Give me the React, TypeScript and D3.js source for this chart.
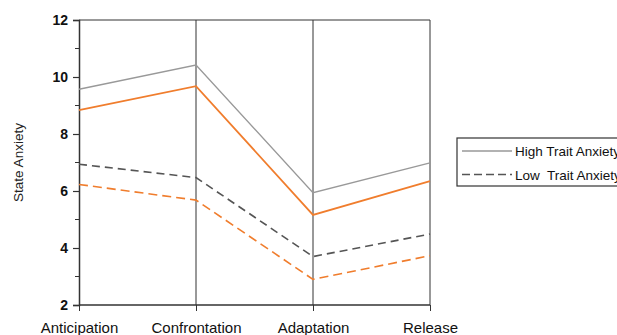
import React, { useRef, useEffect } from 'react';
import * as d3 from 'd3';

const phases = ['Anticipation', 'Confrontation', 'Adaptation', 'Release'];
const yTicks = [2, 4, 6, 8, 10, 12];

// gray = raw scores, orange = adjusted
const highGray = [9.57, 10.42, 5.94, 6.99];
const highOrange = [8.84, 9.68, 5.16, 6.35];
const lowGray = [6.94, 6.47, 3.70, 4.49];
const lowOrange = [6.23, 5.68, 2.90, 3.73];

const App = () => {
  const svgRef = useRef<SVGSVGElement>(null);

  useEffect(() => {
    const W = 617;
    const H = 335;
    const left = 79, right = 430, top = 20, bottom = 305;

    const svg = d3.select(svgRef.current)
      .attr('width', W)
      .attr('height', H)
      .style('font-family', 'Liberation Sans, Arial, sans-serif');

    svg.selectAll('*').remove();

    const x = d3.scalePoint().domain(phases).range([left, right]);
    const y = d3.scaleLinear().domain([2, 12]).range([bottom, top]);

    const axisColor = '#333';

    // vertical phase lines (excluding the y axis)
    svg.append('g')
      .selectAll('line')
      .data(phases.slice(1))
      .enter()
      .append('line')
      .attr('x1', d => x(d)!)
      .attr('x2', d => x(d)!)
      .attr('y1', top)
      .attr('y2', bottom)
      .attr('stroke', axisColor)
      .attr('stroke-width', 1);

    // top border
    svg.append('line')
      .attr('x1', left).attr('x2', right)
      .attr('y1', top).attr('y2', top)
      .attr('stroke', axisColor);

    // y axis
    const yAxis = svg.append('g')
      .attr('transform', `translate(${left},0)`)
      .call(d3.axisLeft(y).tickValues(yTicks).tickSize(6).tickPadding(5).tickFormat(d3.format('d')));
    yAxis.select('.domain').attr('stroke', axisColor).attr('stroke-width', 1.5);
    yAxis.selectAll('.tick line').attr('stroke', axisColor).attr('stroke-width', 1.2);
    yAxis.selectAll('text')
      .attr('font-size', 14)
      .attr('font-weight', 'bold')
      .attr('fill', '#111')
      .style('font-family', 'Liberation Sans, Arial, sans-serif');

    // minor ticks on odd values
    svg.append('g')
      .selectAll('line')
      .data(d3.range(3, 12, 2))
      .enter()
      .append('line')
      .attr('x1', left - 4)
      .attr('x2', left)
      .attr('y1', d => y(d))
      .attr('y2', d => y(d))
      .attr('stroke', axisColor);

    // x axis
    const xAxis = svg.append('g')
      .attr('transform', `translate(0,${bottom})`)
      .call(d3.axisBottom(x).tickSize(6).tickPadding(11));
    xAxis.select('.domain').attr('stroke', axisColor).attr('stroke-width', 1.5).attr('d', `M${left},0H${right}`);
    xAxis.selectAll('.tick line').attr('stroke', axisColor);
    xAxis.selectAll('text')
      .attr('font-size', 15)
      .attr('fill', '#111')
      .style('font-family', 'Liberation Sans, Arial, sans-serif');

    // y label
    svg.append('text')
      .attr('transform', `translate(23,${(top + bottom) / 2}) rotate(-90)`)
      .attr('text-anchor', 'middle')
      .attr('font-size', 13.5)
      .attr('fill', '#222')
      .text('State Anxiety');

    const line = d3.line<number>()
      .x((d, i) => x(phases[i])!)
      .y(d => y(d));

    const series = [
      { values: highGray, color: '#999999', dash: null, width: 1.3 },
      { values: highOrange, color: '#f07d2d', dash: null, width: 1.8 },
      { values: lowGray, color: '#555555', dash: '8,5', width: 1.6 },
      { values: lowOrange, color: '#f07d2d', dash: '9,5', width: 1.6 },
    ];

    svg.append('g')
      .selectAll('path')
      .data(series)
      .enter()
      .append('path')
      .attr('d', d => line(d.values))
      .attr('fill', 'none')
      .attr('stroke', d => d.color)
      .attr('stroke-width', d => d.width)
      .attr('stroke-dasharray', d => d.dash);

    // legend
    const legend = svg.append('g').attr('transform', 'translate(457,138)');
    legend.append('rect')
      .attr('width', 180)
      .attr('height', 48)
      .attr('fill', 'white')
      .attr('stroke', '#333')
      .attr('stroke-width', 1.2);

    const items = [
      { label: 'High Trait Anxiety', color: '#999999', dash: null },
      { label: 'Low  Trait Anxiety', color: '#555555', dash: '8,4' },
    ];
    items.forEach((it, i) => {
      const ly = 13 + i * 23.5;
      legend.append('line')
        .attr('x1', 5).attr('x2', 55)
        .attr('y1', ly).attr('y2', ly)
        .attr('stroke', it.color)
        .attr('stroke-width', 1.4)
        .attr('stroke-dasharray', it.dash);
      legend.append('text')
        .attr('x', 58)
        .attr('y', ly + 5)
        .attr('font-size', 13.5)
        .attr('fill', '#111')
        .style('white-space', 'pre')
        .text(it.label);
    });
  }, []);

  return <svg ref={svgRef} style={{ position: 'absolute', left: 0, top: 0 }}></svg>;
};

export default App;
